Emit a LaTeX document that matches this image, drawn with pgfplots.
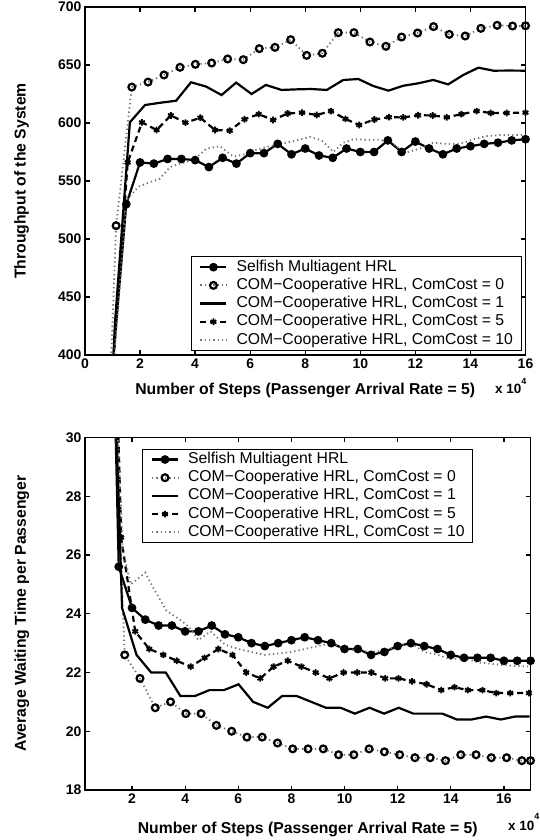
\documentclass[border=0pt]{standalone}
\usepackage{fontspec}
\setmainfont{Liberation Sans}
\usepackage{pgfplots}
\pgfplotsset{compat=1.18}

\definecolor{dotgray}{gray}{0.45}

\pgfplotsset{
  hrl/.style={
    scale only axis,
    axis line style={line width=1.6bp},
    every tick/.style={black, line width=1.3bp},
    major tick length=4.5bp,
    tick align=inside,
    tick pos=both,
    xticklabel pos=left,
    yticklabel pos=left,
    /pgf/number format/assume math mode=true,
    ticklabel style={font=\fontsize{14}{16}\selectfont\bfseries},
    label style={font=\fontsize{15.8}{18}\selectfont\bfseries},
    legend cell align=left,
    legend style={font=\fontsize{15.8}{18}\selectfont, draw=black, line width=1bp,
      fill=white, inner xsep=8bp, inner ysep=3bp, row sep=3.2bp, column sep=9bp,
      nodes={inner sep=0pt, text height=11.5bp, text depth=3.5bp}},
    legend image code/.code={\draw[mark repeat=2,mark phase=2,#1]
      plot coordinates {(0bp,0bp) (13bp,0bp) (26bp,0bp)};},
  },
  selfish/.style={black, solid, line width=2.2bp, mark=*, mark size=3.6bp,
    mark options={solid, fill=black, line width=1.5bp}},
  cc0/.style={dotgray, line width=1.8bp, dash pattern=on 1.3bp off 3bp, mark=o, mark size=3.4bp,
    mark options={solid, draw=black, line width=2.2bp}},
  cc1/.style={black, solid, line width=2.2bp, mark=none},
  cc5/.style={black, line width=2.2bp, dash pattern=on 6bp off 4bp, mark=asterisk, mark size=3.3bp,
    mark options={solid, line width=1.8bp}},
  cc10/.style={dotgray, line width=1.8bp, dash pattern=on 1.3bp off 3bp, mark=none},
}

\begin{document}
\begin{tikzpicture}

% ---------------- top: throughput ----------------
\begin{axis}[hrl,
  at={(85bp,-355bp)}, anchor=south west,
  width=440.5bp, height=348bp,
  xmin=0, xmax=16, ymin=400, ymax=700,
  xtick={0,2,...,16}, ytick={400,450,...,700},
  xlabel={Number of Steps (Passenger Arrival Rate = 5)},
  ylabel={Throughput of the System},
  xlabel style={at={(axis description cs:0.5,-0.102)}, anchor=center},
  ylabel style={at={(axis description cs:-0.1437,0.5)}, anchor=center},
  legend style={at={(1,0)}, anchor=south east, xshift=-4bp, yshift=4bp},
]
\addplot[selfish] coordinates {
(0.5,100) (1.0,390) (1.5,530) (2.0,566) (2.5,565) (3.0,569) (3.5,569) (4.0,568)
(4.5,562) (5.0,570) (5.5,565) (6.0,574) (6.5,574) (7.0,582) (7.5,573) (8.0,578)
(8.5,572) (9.0,570) (9.5,578) (10.0,575) (10.5,575) (11.0,585) (11.5,575) (12.0,584)
(12.5,578) (13.0,573) (13.5,578) (14.0,580) (14.5,582) (15.0,583) (15.5,585) (16.0,586)
};
\addlegendentry{Selfish Multiagent HRL}
\addplot[cc0] coordinates {
(0.56,150) (1.13,511.5) (1.70,631) (2.29,635.3) (2.87,641.4) (3.45,648) (4.01,650.6)
(4.60,651.7) (5.18,655.2) (5.75,654.6) (6.33,664.1) (6.90,665.2) (7.47,671.8)
(8.05,658.3) (8.62,660.1) (9.20,677.9) (9.77,677.9) (10.35,669.8) (10.93,666.1)
(11.50,674.1) (12.08,677.6) (12.66,683.1) (13.23,676.4) (13.81,675) (14.38,681.6)
(14.97,684.2) (15.53,683.6) (16.0,683.8)
};
\addlegendentry{COM−Cooperative HRL, ComCost = 0}
\addplot[cc1] coordinates {
(0.53,100) (1.08,425) (1.63,600.6) (2.18,615.5) (2.75,617.5) (3.31,619.2) (3.85,635.1)
(4.40,631.4) (4.96,624.1) (5.49,634.8) (6.05,625) (6.57,632.8) (7.14,628.5)
(7.68,629) (8.22,629.3) (8.78,628.5) (9.38,637.1) (9.93,637.9) (10.47,631.9)
(11.02,627.9) (11.56,632.1) (12.10,634.2) (12.65,637.1) (13.19,633.3) (13.74,641.4)
(14.29,647.7) (14.83,645.1) (15.40,645.2) (16.0,645.1)
};
\addlegendentry{COM−Cooperative HRL, ComCost = 1}
\addplot[cc5] coordinates {
(0.5,120) (1.02,390) (1.55,566) (2.07,600.5) (2.60,594) (3.12,606.5) (3.65,600.3)
(4.19,604.5) (4.72,594) (5.26,593.4) (5.79,603.2) (6.31,607.6) (6.83,602.6)
(7.36,608.2) (7.88,608.9) (8.42,606.9) (8.93,610.3) (9.46,603.5) (9.96,598.3)
(10.51,603) (11.04,605) (11.56,604.8) (12.10,606.7) (12.63,606.5) (13.14,604.9)
(13.67,607.6) (14.23,610.3) (14.74,608.6) (15.32,608.6) (16.0,609)
};
\addlegendentry{COM−Cooperative HRL, ComCost = 5}
\addplot[cc10] coordinates {
(0.5,120) (1.0,380) (1.51,533.6) (1.94,545) (2.36,549) (2.72,552) (3.09,562)
(3.45,565) (3.93,568) (4.42,578) (4.90,580) (5.39,571) (5.80,573) (6.24,577)
(6.72,580) (7.20,582.5) (7.69,585) (8.17,588) (8.60,585) (9.02,575) (9.38,583)
(9.75,586) (10.23,585.5) (10.72,585.5) (11.20,582) (11.60,574) (12.17,578)
(12.65,583) (13.14,582) (13.62,582) (14.11,586) (14.59,588.7) (15.08,589.6)
(15.56,589.6) (16.0,589.6)
};
\addlegendentry{COM−Cooperative HRL, ComCost = 10}
\end{axis}

% ---------------- bottom: waiting time ----------------
\begin{axis}[hrl,
  at={(85bp,-790bp)}, anchor=south west,
  width=445.5bp, height=352.5bp,
  xmin=0.23, xmax=17, ymin=18, ymax=30,
  xtick={2,4,...,16}, ytick={18,20,...,30},
  xlabel={Number of Steps (Passenger Arrival Rate = 5)},
  ylabel={Average Waiting Time per Passenger},
  xlabel style={at={(axis description cs:0.5,-0.112)}, anchor=center},
  ylabel style={at={(axis description cs:-0.142,0.5)}, anchor=center},
  legend style={at={(0.5,1)}, anchor=north, yshift=-11bp},
]
\addplot[selfish] coordinates {
(1.0,45) (1.5,25.6) (2.0,24.2) (2.5,23.8) (3.0,23.6) (3.5,23.6) (4.0,23.4) (4.5,23.4)
(5.0,23.6) (5.5,23.3) (6.0,23.2) (6.5,23.0) (7.0,22.9) (7.5,23.0) (8.0,23.1) (8.5,23.2)
(9.0,23.1) (9.5,23.0) (10.0,22.8) (10.5,22.8) (11.0,22.6) (11.5,22.7) (12.0,22.9)
(12.5,23.0) (13.0,22.9) (13.5,22.8) (14.0,22.6) (14.5,22.5) (15.0,22.5) (15.5,22.5)
(16.0,22.4) (16.5,22.4) (17.0,22.4)
};
\addlegendentry{Selfish Multiagent HRL}
\addplot[cc0] coordinates {
(1.15,35.7) (1.725,22.6) (2.30,21.8) (2.875,20.8) (3.45,21.0) (4.025,20.6) (4.60,20.6)
(5.175,20.2) (5.75,20.0) (6.325,19.8) (6.90,19.8) (7.475,19.6) (8.05,19.4) (8.625,19.4)
(9.20,19.4) (9.775,19.2) (10.35,19.2) (10.925,19.4) (11.50,19.3) (12.075,19.2)
(12.65,19.1) (13.225,19.1) (13.80,19.0) (14.375,19.2) (14.95,19.2) (15.525,19.1)
(16.10,19.1) (16.675,19.0) (17.0,19.0)
};
\addlegendentry{COM−Cooperative HRL, ComCost = 0}
\addplot[cc1] coordinates {
(1.08,40) (1.625,24.2) (2.17,22.6) (2.72,22.0) (3.27,22.0) (3.82,21.2) (4.37,21.2)
(4.91,21.4) (5.46,21.4) (6.01,21.6) (6.56,21.0) (7.11,20.8) (7.65,21.2) (8.20,21.2)
(8.75,21.0) (9.30,20.8) (9.85,20.8) (10.39,20.6) (10.94,20.8) (11.49,20.6) (12.04,20.8)
(12.59,20.6) (13.13,20.6) (13.68,20.6) (14.23,20.4) (14.78,20.4) (15.33,20.5)
(15.88,20.4) (16.42,20.5) (16.97,20.5)
};
\addlegendentry{COM−Cooperative HRL, ComCost = 1}
\addplot[cc5] coordinates {
(1.06,45) (1.59,26.6) (2.12,23.4) (2.65,22.8) (3.18,22.6) (3.68,22.4) (4.21,22.2)
(4.73,22.5) (5.25,22.8) (5.78,22.6) (6.30,22.0) (6.83,21.8) (7.33,22.2) (7.86,22.4)
(8.38,22.2) (8.91,22.0) (9.43,21.8) (9.96,22.0) (10.48,22.0) (11.01,22.0) (11.53,21.8)
(12.03,21.8) (12.54,21.7) (13.09,21.6) (13.64,21.4) (14.14,21.5) (14.64,21.4)
(15.19,21.4) (15.71,21.3) (16.24,21.3) (16.94,21.3)
};
\addlegendentry{COM−Cooperative HRL, ComCost = 5}
\addplot[cc10] coordinates {
(1.0,40) (1.65,26.2) (1.95,25.0) (2.5,25.4) (2.85,24.8) (3.3,24.1) (3.8,23.8)
(4.15,23.55) (4.5,23.1) (4.95,23.4) (5.5,22.95) (6.0,22.8) (6.5,22.7) (7.0,22.6)
(7.5,22.65) (8.0,22.7) (8.5,22.8) (9.0,22.9) (9.5,23.0) (10.0,22.8) (10.5,22.75)
(11.0,22.7) (11.5,22.75) (12.0,22.9) (12.5,23.0) (13.0,22.7) (13.5,22.6) (14.0,22.45)
(14.5,22.5) (15.0,22.35) (15.5,22.3) (16.0,22.25) (16.5,22.22) (17.0,22.2)
};
\addlegendentry{COM−Cooperative HRL, ComCost = 10}
\end{axis}

% x 10^4 multipliers
\node[anchor=base west, inner sep=0pt, font=\fontsize{13.5}{15}\selectfont\bfseries]
  at (495bp,-393bp) {x 10\raisebox{9bp}{\fontsize{9}{10}\selectfont 4}};
\node[anchor=base west, inner sep=0pt, font=\fontsize{13.5}{15}\selectfont\bfseries]
  at (508bp,-830bp) {x 10\raisebox{11bp}{\fontsize{9}{10}\selectfont 4}};

\pgfresetboundingbox
\path (0bp,-840bp) rectangle (540bp,0bp);
\end{tikzpicture}
\end{document}
